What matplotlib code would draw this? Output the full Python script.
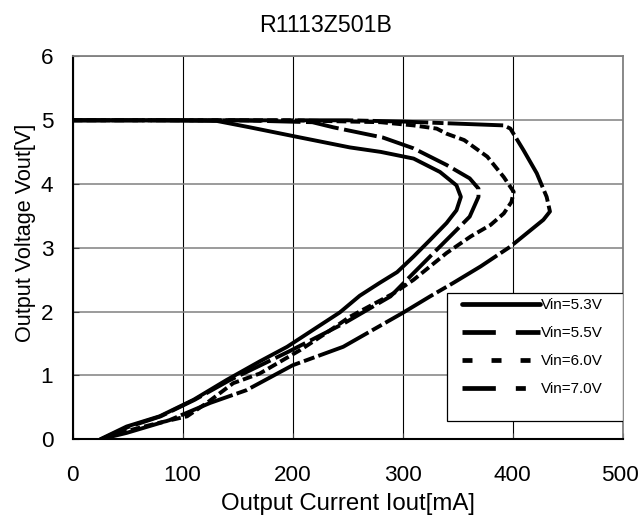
import matplotlib.pyplot as plt
from matplotlib.lines import Line2D
from matplotlib.patches import Rectangle

plt.rcParams['font.family'] = ['Liberation Sans', 'DejaVu Sans']
plt.rcParams['lines.scale_dashes'] = False

# Vin = 5.3V
i53 = [0, 80, 131, 161, 207, 252, 280, 310, 334, 349, 353, 349, 340, 325, 310, 295, 279, 261, 243, 219, 195, 170, 140, 110, 79, 49, 25]
v53 = [5.0, 5.0, 4.99, 4.89, 4.73, 4.575, 4.505, 4.40, 4.19, 3.98, 3.80, 3.59, 3.39, 3.125, 2.865, 2.62, 2.45, 2.25, 1.99, 1.72, 1.45, 1.22, 0.93, 0.62, 0.36, 0.2, 0.0]
# Vin = 5.5V
i55 = [0, 150, 218, 237, 282, 310, 340, 361, 369, 369, 361, 349, 331, 316, 301, 289, 265, 247, 222, 197, 172, 142, 111, 80, 50, 26]
v55 = [5.0, 5.0, 4.97, 4.89, 4.73, 4.56, 4.30, 4.09, 3.93, 3.80, 3.49, 3.28, 2.97, 2.71, 2.45, 2.24, 2.0, 1.82, 1.60, 1.38, 1.17, 0.92, 0.62, 0.36, 0.19, 0.0]
# Vin = 6.0V
i60 = [0, 200, 280, 310, 331, 340, 356, 377, 392, 401, 399, 392, 380, 362, 340, 325, 310, 292, 252, 230, 207, 186, 170, 146, 122, 104, 79, 49, 25]
v60 = [5.0, 5.0, 4.97, 4.92, 4.87, 4.79, 4.69, 4.43, 4.11, 3.88, 3.72, 3.54, 3.36, 3.18, 2.92, 2.71, 2.50, 2.29, 1.92, 1.66, 1.40, 1.19, 1.03, 0.88, 0.57, 0.36, 0.26, 0.13, 0.0]
# Vin = 7.0V
i70 = [0, 250, 300, 392, 398, 410, 422, 431, 434, 428, 413, 398, 371, 346, 325, 300, 246, 200, 158, 125, 88, 49, 25]
v70 = [5.0, 5.0, 4.98, 4.92, 4.87, 4.53, 4.17, 3.80, 3.57, 3.44, 3.23, 3.02, 2.71, 2.45, 2.24, 1.98, 1.45, 1.16, 0.77, 0.57, 0.30, 0.1, 0.0]

labels = ['Vin=5.3V', 'Vin=5.5V', 'Vin=6.0V', 'Vin=7.0V']
xticks = [0, 100, 200, 300, 400, 500]
yticks = [0, 1, 2, 3, 4, 5, 6]

fig = plt.figure(figsize=(6.4, 5.15), dpi=100)
ax = fig.add_axes([0.1136, 0.147, 0.8591, 0.7433])

lw = 2.8
ax.plot(i53, v53, color='black', lw=lw, solid_capstyle='round', solid_joinstyle='round')
ax.plot(i55, v55, color='black', lw=lw, linestyle=(0, (24, 4)))
ax.plot(i60, v60, color='black', lw=lw, linestyle=(0, (7, 3)))
ax.plot(i70, v70, color='black', lw=lw, linestyle=(0, (40, 3, 8, 3)))

ax.set_xlim(0, 500)
ax.set_ylim(0, 6)
ax.set_xticks(xticks)
ax.set_yticks(yticks)
ax.grid(axis='x', color='black', lw=0.8)
ax.grid(axis='y', color='#808080', lw=1.1)
ax.set_axisbelow(True)
ax.tick_params(direction='in', length=4, labelsize=16.2, color='#404040')
ax.tick_params(axis='x', pad=18.5)
ax.tick_params(axis='y', pad=14)
# keep the last x tick label inside the picture
ax.get_xticklabels()[-1].set_horizontalalignment('right')
ax.get_xticklabels()[-1].set_x(500)
for lab in ax.get_xticklabels()[-1:]:
    lab.set_ha('center')
import matplotlib.transforms as mtrans
off = mtrans.ScaledTranslation(-3 / 100, 0, fig.dpi_scale_trans)
lab5 = ax.xaxis.get_major_ticks()[-1].label1
lab5.set_transform(lab5.get_transform() + off)
for s in ['left', 'bottom']:
    ax.spines[s].set_color('black')
    ax.spines[s].set_linewidth(1.5)
for s in ['top', 'right']:
    ax.spines[s].set_color('#808080')
    ax.spines[s].set_linewidth(1.3)

ax.set_xlabel('Output Current Iout[mA]', fontsize=17.3)
ax.xaxis.set_label_coords(0.5, -0.141)
ax.set_ylabel('Output Voltage Vout[V]', fontsize=15.6)
ax.yaxis.set_label_coords(-0.066, 0.54)
fig.text(0.509, 0.9384, 'R1113Z501B', fontsize=16.7, ha='center', va='baseline')

# legend box
ax.add_patch(Rectangle((0.6805, 0.049), 0.3195, 0.333, transform=ax.transAxes,
                       facecolor='white', edgecolor='black', lw=0.9, zorder=5))
handles = [
    Line2D([], [], color='black', lw=3.4, solid_capstyle='round'),
    Line2D([], [], color='black', lw=3.4, linestyle=(0, (24, 14.4))),
    Line2D([], [], color='black', lw=3.4, linestyle=(0, (7.2, 13.7))),
    Line2D([], [], color='black', lw=3.4, linestyle=(0, (24, 14.4, 7.2, 14.4))),
]
leg = ax.legend(handles, labels, loc='upper left', bbox_to_anchor=(0.7073, 0.3683),
                borderaxespad=0, borderpad=0, fontsize=11, handlelength=5.12,
                handletextpad=0.1, labelspacing=0.92, frameon=False)
leg.set_zorder(6)

fig.savefig('out.png', dpi=100)
